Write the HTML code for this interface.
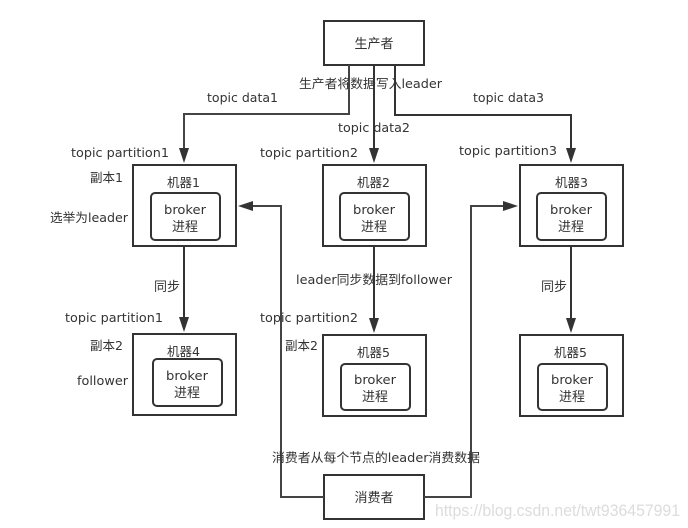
<!DOCTYPE html>
<html>
<head>
<meta charset="utf-8">
<style>
html,body{margin:0;padding:0;background:#fff;width:688px;height:528px;overflow:hidden}
svg{display:block}
text{font-family:"DejaVu Sans","Noto Sans CJK SC","WenQuanYi Zen Hei",sans-serif;font-size:12.5px;fill:#333}
text.z{font-size:13px}
.c{text-anchor:middle}
.b{fill:#fff;stroke:#333;stroke-width:2}
.l{fill:none;stroke:#333;stroke-width:2}
.g{fill:none;stroke:#444;stroke-width:2}
.a{fill:#333;stroke:none}
</style>
</head>
<body>
<svg width="688" height="528" viewBox="0 0 688 528" xmlns="http://www.w3.org/2000/svg">
<!-- boxes -->
<rect class="b" x="324" y="21" width="100" height="44"/>
<rect class="b" x="133" y="165" width="103" height="81"/>
<rect class="b" x="323" y="165" width="103" height="81"/>
<rect class="b" x="520" y="165" width="103" height="81"/>
<rect class="b" x="133" y="334" width="103" height="81"/>
<rect class="b" x="323" y="335" width="103" height="81"/>
<rect class="b" x="520" y="335" width="103" height="81"/>
<rect class="b" x="324" y="475" width="100" height="44"/>
<rect class="b" x="151" y="193" width="69" height="47" rx="4"/>
<rect class="b" x="340" y="193" width="69" height="47" rx="4"/>
<rect class="b" x="537" y="193" width="69" height="47" rx="4"/>
<rect class="b" x="153" y="359" width="69" height="47" rx="4"/>
<rect class="b" x="341" y="364" width="69" height="46" rx="4"/>
<rect class="b" x="538" y="364" width="69" height="46" rx="4"/>
<!-- connectors -->
<path class="g" d="M349 65V114H184V150"/>
<path class="l" d="M374 65V150"/>
<path class="l" d="M395 65V115H571V150"/>
<path class="l" d="M184 246V319"/>
<path class="l" d="M374 246V320"/>
<path class="l" d="M571 246V320"/>
<path class="g" d="M324 497H281V206H251"/>
<path class="g" d="M424 497H471V206H505"/>
<!-- arrowheads -->
<polygon class="a" points="179,148 189,148 184,163"/>
<polygon class="a" points="369,148 379,148 374,163"/>
<polygon class="a" points="566,148 576,148 571,163"/>
<polygon class="a" points="179,317 189,317 184,332"/>
<polygon class="a" points="369,318 379,318 374,333"/>
<polygon class="a" points="566,318 576,318 571,333"/>
<polygon class="a" points="238,206 253,201 253,211"/>
<polygon class="a" points="518,206 503,201 503,211"/>
<!-- labels -->
<text class="c z" x="374" y="48">生产者</text>
<text x="299" y="88" textLength="143" lengthAdjust="spacingAndGlyphs">生产者将数据写入leader</text>
<text x="207" y="102" textLength="71" lengthAdjust="spacingAndGlyphs">topic data1</text>
<text x="338" y="132" textLength="72" lengthAdjust="spacingAndGlyphs">topic data2</text>
<text x="473" y="102" textLength="71" lengthAdjust="spacingAndGlyphs">topic data3</text>
<text x="71" y="157" textLength="98" lengthAdjust="spacingAndGlyphs">topic partition1</text>
<text x="260" y="157" textLength="98" lengthAdjust="spacingAndGlyphs">topic partition2</text>
<text x="459" y="155" textLength="98" lengthAdjust="spacingAndGlyphs">topic partition3</text>
<text x="90" y="182" textLength="33" lengthAdjust="spacingAndGlyphs">副本1</text>
<text x="50" y="222" textLength="78" lengthAdjust="spacingAndGlyphs">选举为leader</text>
<text x="167" y="187" textLength="33" lengthAdjust="spacingAndGlyphs">机器1</text>
<text x="357" y="187" textLength="33" lengthAdjust="spacingAndGlyphs">机器2</text>
<text x="555" y="187" textLength="33" lengthAdjust="spacingAndGlyphs">机器3</text>
<text x="167" y="356" textLength="33" lengthAdjust="spacingAndGlyphs">机器4</text>
<text x="357" y="357" textLength="33" lengthAdjust="spacingAndGlyphs">机器5</text>
<text x="554" y="357" textLength="33" lengthAdjust="spacingAndGlyphs">机器5</text>
<text x="164" y="214" textLength="42" lengthAdjust="spacingAndGlyphs">broker</text>
<text class="c z" x="185" y="231">进程</text>
<text x="353" y="214" textLength="42" lengthAdjust="spacingAndGlyphs">broker</text>
<text class="c z" x="374" y="231">进程</text>
<text x="550" y="214" textLength="42" lengthAdjust="spacingAndGlyphs">broker</text>
<text class="c z" x="571" y="231">进程</text>
<text x="166" y="380" textLength="42" lengthAdjust="spacingAndGlyphs">broker</text>
<text class="c z" x="187" y="397">进程</text>
<text x="354" y="384" textLength="42" lengthAdjust="spacingAndGlyphs">broker</text>
<text class="c z" x="375" y="401">进程</text>
<text x="551" y="384" textLength="42" lengthAdjust="spacingAndGlyphs">broker</text>
<text class="c z" x="572" y="401">进程</text>
<text class="z" x="154" y="291">同步</text>
<text class="z" x="541" y="291">同步</text>
<text x="296" y="284" textLength="156" lengthAdjust="spacingAndGlyphs">leader同步数据到follower</text>
<text x="65" y="322" textLength="98" lengthAdjust="spacingAndGlyphs">topic partition1</text>
<text x="260" y="322" textLength="98" lengthAdjust="spacingAndGlyphs">topic partition2</text>
<text x="90" y="350" textLength="33" lengthAdjust="spacingAndGlyphs">副本2</text>
<text x="285" y="350" textLength="33" lengthAdjust="spacingAndGlyphs">副本2</text>
<text x="77" y="385" textLength="51" lengthAdjust="spacingAndGlyphs">follower</text>
<text x="272" y="462" textLength="208" lengthAdjust="spacingAndGlyphs">消费者从每个节点的leader消费数据</text>
<text class="c z" x="374" y="502">消费者</text>
<!-- watermark -->
<text x="435" y="516" textLength="245" lengthAdjust="spacingAndGlyphs" style="font-family:'Liberation Sans',sans-serif;font-size:17px;fill:#c4c4c4;fill-opacity:.6">https://blog.csdn.net/twt936457991</text>
</svg>
</body>
</html>
